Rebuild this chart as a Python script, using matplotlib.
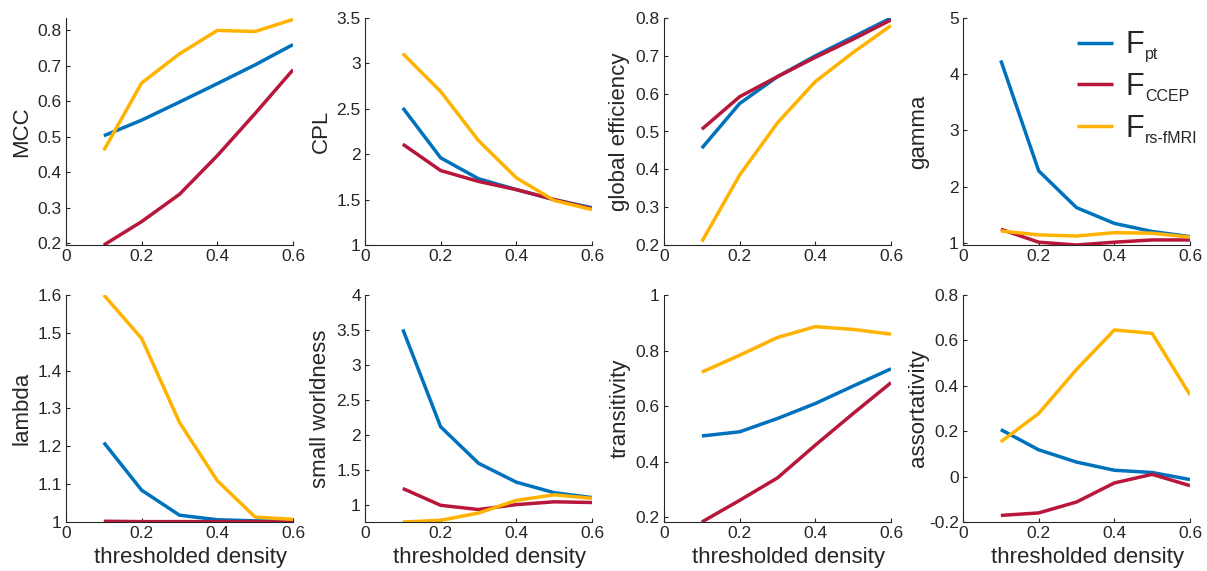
import numpy as np
import matplotlib
matplotlib.use('Agg')
import matplotlib.pyplot as plt

# --- Data ---
density = [0.1, 0.2, 0.3, 0.4, 0.5, 0.6]

mcc_pt = [0.503, 0.547, 0.598, 0.650, 0.703, 0.760]
mcc_ccep = [0.195, 0.261, 0.338, 0.447, 0.566, 0.689]
mcc_rs = [0.462, 0.652, 0.734, 0.800, 0.797, 0.831]

cpl_pt = [2.51, 1.96, 1.73, 1.61, 1.50, 1.41]
cpl_ccep = [2.11, 1.82, 1.70, 1.61, 1.50, 1.40]
cpl_rs = [3.108, 2.69, 2.15, 1.74, 1.49, 1.39]

geff_pt = [0.456, 0.574, 0.645, 0.700, 0.750, 0.800]
geff_ccep = [0.506, 0.592, 0.645, 0.696, 0.744, 0.795]
geff_rs = [0.209, 0.385, 0.523, 0.632, 0.709, 0.780]

gamma_pt = [4.245, 2.28, 1.625, 1.345, 1.20, 1.11]
gamma_ccep = [1.24, 1.01, 0.96, 1.01, 1.05, 1.05]
gamma_rs = [1.21, 1.14, 1.12, 1.18, 1.17, 1.10]

lambda_pt = [1.21, 1.084, 1.018, 1.006, 1.003, 1.002]
lambda_ccep = [1.002, 1.001, 1.001, 1.001, 1.001, 1.000]
lambda_rs = [1.60, 1.485, 1.263, 1.109, 1.013, 1.007]

sw_pt = [3.51, 2.12, 1.60, 1.33, 1.18, 1.11]
sw_ccep = [1.24, 1.00, 0.94, 1.01, 1.05, 1.04]
sw_rs = [0.762, 0.786, 0.89, 1.07, 1.15, 1.10]

trans_pt = [0.492, 0.507, 0.555, 0.609, 0.672, 0.734]
trans_ccep = [0.182, 0.260, 0.341, 0.459, 0.573, 0.684]
trans_rs = [0.722, 0.783, 0.847, 0.886, 0.876, 0.859]

assort_pt = [0.207, 0.118, 0.064, 0.028, 0.018, -0.013]
assort_ccep = [-0.171, -0.160, -0.112, -0.028, 0.010, -0.040]
assort_rs = [0.153, 0.278, 0.472, 0.646, 0.631, 0.360]

# name, series, ylim, yticks
panels = [
    ('MCC', (mcc_pt, mcc_ccep, mcc_rs), (0.195, 0.835), [0.2, 0.3, 0.4, 0.5, 0.6, 0.7, 0.8]),
    ('CPL', (cpl_pt, cpl_ccep, cpl_rs), (1, 3.5), [1, 1.5, 2, 2.5, 3, 3.5]),
    ('global efficiency', (geff_pt, geff_ccep, geff_rs), (0.2, 0.8), [0.2, 0.3, 0.4, 0.5, 0.6, 0.7, 0.8]),
    ('gamma', (gamma_pt, gamma_ccep, gamma_rs), (0.96, 5), [1, 2, 3, 4, 5]),
    ('lambda', (lambda_pt, lambda_ccep, lambda_rs), (1, 1.6), [1, 1.1, 1.2, 1.3, 1.4, 1.5, 1.6]),
    ('small worldness', (sw_pt, sw_ccep, sw_rs), (0.762, 4), [1, 1.5, 2, 2.5, 3, 3.5, 4]),
    ('transitivity', (trans_pt, trans_ccep, trans_rs), (0.182, 1), [0.2, 0.4, 0.6, 0.8, 1]),
    ('assortativity', (assort_pt, assort_ccep, assort_rs), (-0.2, 0.8), [-0.2, 0, 0.2, 0.4, 0.6, 0.8]),
]

legend_main = ['F', 'F', 'F']
legend_sub = ['pt', 'CCEP', 'rs-fMRI']
colors = ['#0072BD', '#B8163A', '#FFB300']

plt.rcParams['font.family'] = ['Liberation Sans', 'DejaVu Sans']
axis_col = '#262626'

W, H = 1207, 571
fig = plt.figure(figsize=(W / 100, H / 100), dpi=100)

lefts = [66, 365, 664, 963]
w = 227 / W
h = 227 / H
bottoms = [1 - 245 / H, 1 - 522 / H]

leg = None
for i, (name, series, ylim, yticks) in enumerate(panels):
    row, col = divmod(i, 4)
    ax = fig.add_axes([lefts[col] / W, bottoms[row], w, h])
    for s, c, lab in zip(series, colors, legend_main):
        ax.plot(density, s, color=c, lw=2.5, label=lab, solid_capstyle='butt')
    ax.set_xlim(0, 0.6)
    ax.set_ylim(*ylim)
    ax.set_xticks([0, 0.2, 0.4, 0.6])
    ax.set_xticklabels(['0', '0.2', '0.4', '0.6'])
    ax.set_yticks(yticks)
    ax.set_yticklabels([f'{t:g}' for t in yticks])
    for sp in ['top', 'right']:
        ax.spines[sp].set_visible(False)
    for sp in ['left', 'bottom']:
        ax.spines[sp].set_color(axis_col)
        ax.spines[sp].set_linewidth(0.8)
    ax.tick_params(direction='in', length=3, width=0.8, colors=axis_col,
                   labelsize=12.5, pad=3)
    ax.set_ylabel(name, fontsize=16, color=axis_col, va='center')
    ax.yaxis.set_label_coords(-44 / 227, 0.5)
    if row == 1:
        ax.set_xlabel('thresholded density', fontsize=16, color=axis_col, va='center')
        ax.xaxis.set_label_coords(0.55, -35 / 227)
    if i == 3:
        leg = ax.legend(loc='upper left', frameon=False, fontsize=22,
                        handlelength=1.2, handletextpad=0.4, labelspacing=0.38,
                        borderaxespad=0.0, borderpad=0.0,
                        bbox_to_anchor=(0.5, 0.945))
        for t in leg.get_texts():
            t.set_color(axis_col)

# subscripts next to the legend "F"s
fig.canvas.draw()
renderer = fig.canvas.get_renderer()
for t, sub in zip(leg.get_texts(), legend_sub):
    bb = t.get_window_extent(renderer)
    fig.text((bb.x1 + 1) / W, (bb.y0 + 1) / H, sub, fontsize=11.5,
             color=axis_col, ha='left', va='baseline')

fig.savefig('out.png', dpi=100)
